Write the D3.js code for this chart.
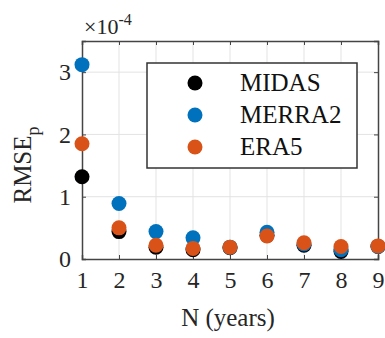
<!DOCTYPE html>
<html>
<head>
<meta charset="utf-8">
<script src="https://cdn.jsdelivr.net/npm/d3@7"></script>
<style>
  body { margin: 0; background: #fff; }
</style>
</head>
<body>
<div id="chart"></div>
<script>
// data (values in units of 1e-4)
var years = [1, 2, 3, 4, 5, 6, 7, 8, 9];
var midas = [1.32, 0.44, 0.19, 0.15, 0.18, 0.38, 0.22, 0.12, 0.2];
var merra2 = [3.12, 0.89, 0.44, 0.34, 0.19, 0.43, 0.24, 0.15, 0.2];
var era5 = [1.85, 0.5, 0.22, 0.17, 0.19, 0.37, 0.26, 0.2, 0.21];
var xTicks = [1, 2, 3, 4, 5, 6, 7, 8, 9];
var yTicks = [0, 1, 2, 3];
var seriesNames = ["MIDAS", "MERRA2", "ERA5"];
var seriesColors = ["#000000", "#0072BD", "#D95319"];

var FONT = "Liberation Serif";

function draw(){
  var W = 385, H = 338;
  var margin = {left: 82, right: 7, top: 41, bottom: 79};
  var svg = d3.select("#chart").append("svg").attr("width", W).attr("height", H);

  var x = d3.scaleLinear().domain([1, 9]).range([margin.left, W - margin.right]);
  var y = d3.scaleLinear().domain([0, 3.5]).range([H - margin.bottom, margin.top]);

  // grid
  svg.append("g").selectAll("line").data(xTicks.slice(1, -1)).enter().append("line")
    .attr("x1", function(d){ return x(d); }).attr("x2", function(d){ return x(d); })
    .attr("y1", y(0)).attr("y2", y(3.5))
    .attr("stroke", "#e3e3e3").attr("stroke-width", 1);
  svg.append("g").selectAll("line").data(yTicks.slice(1)).enter().append("line")
    .attr("y1", function(d){ return y(d); }).attr("y2", function(d){ return y(d); })
    .attr("x1", x(1)).attr("x2", x(9))
    .attr("stroke", "#e3e3e3").attr("stroke-width", 1);

  // axes with inward ticks
  var xAxis = d3.axisBottom(x).tickValues(xTicks).tickSize(-4).tickPadding(12).tickFormat(d3.format("d"));
  var yAxis = d3.axisLeft(y).tickValues(yTicks).tickSize(-4).tickPadding(12).tickFormat(d3.format("d"));
  var xTop = d3.axisTop(x).tickValues(xTicks).tickSize(-4).tickFormat("");
  var yRight = d3.axisRight(y).tickValues(yTicks).tickSize(-4).tickFormat("");

  var gx = svg.append("g").attr("transform", "translate(0," + y(0) + ")").call(xAxis);
  var gy = svg.append("g").attr("transform", "translate(" + x(1) + ",0)").call(yAxis);
  var gt = svg.append("g").attr("transform", "translate(0," + y(3.5) + ")").call(xTop);
  var gr = svg.append("g").attr("transform", "translate(" + x(9) + ",0)").call(yRight);

  [gx, gy, gt, gr].forEach(function(g){
    g.attr("font-family", FONT);
    g.select(".domain").attr("stroke", "#444").attr("stroke-width", 1.5);
    g.selectAll(".tick line").attr("stroke", "#444");
    g.selectAll("text").attr("font-size", 24).attr("font-family", FONT).attr("fill", "#262626");
  });
  gy.selectAll("text").attr("dx", 1);

  // points
  var allSeries = [midas, merra2, era5];
  allSeries.forEach(function(vals, s){
    svg.append("g").selectAll("circle").data(vals).enter().append("circle")
      .attr("cx", function(d, i){ return x(years[i]); })
      .attr("cy", function(d){ return y(d); })
      .attr("r", 7.5)
      .attr("fill", seriesColors[s]);
  });

  // exponent label
  var ex = svg.append("text").attr("x", 84).attr("y", 34).attr("font-size", 22)
    .attr("font-family", FONT).attr("fill", "#262626");
  ex.append("tspan").text("\u00d710");
  ex.append("tspan").attr("dy", -9).attr("font-size", 16).text("-4");

  // axis labels
  svg.append("text").attr("x", (x(1) + x(9)) / 2 - 2).attr("y", 326)
    .attr("text-anchor", "middle").attr("font-size", 25)
    .attr("font-family", FONT).attr("fill", "#262626").text("N (years)");
  var yl = svg.append("text").attr("transform", "translate(31," + 165 + ") rotate(-90)")
    .attr("text-anchor", "middle").attr("font-size", 25)
    .attr("font-family", FONT).attr("fill", "#262626");
  yl.append("tspan").text("RMSE");
  yl.append("tspan").attr("dy", 8).attr("font-size", 18).text("p");

  // legend
  var lg = svg.append("g");
  lg.append("rect").attr("x", 147).attr("y", 63).attr("width", 210).attr("height", 105)
    .attr("fill", "#fff").attr("stroke", "#333").attr("stroke-width", 1.5);
  seriesNames.forEach(function(name, i){
    var cy = 83 + i * 32;
    lg.append("circle").attr("cx", 195).attr("cy", cy).attr("r", 7.5).attr("fill", seriesColors[i]);
    lg.append("text").attr("x", 240).attr("y", cy + 8).attr("font-size", 25)
      .attr("font-family", FONT).attr("fill", "#111").text(name);
  });
}

draw();
</script>
</body>
</html>
